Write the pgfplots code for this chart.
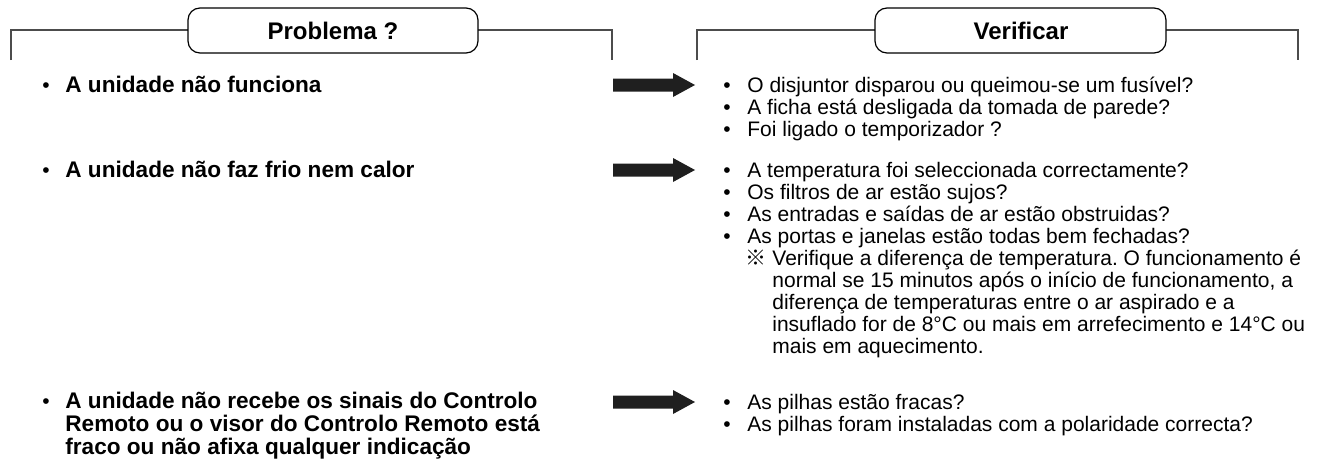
\documentclass[border=0pt]{standalone}
\usepackage{fontspec}
\setmainfont{Liberation Sans}
\newfontfamily\cjk{Noto Sans CJK JP}
\usepackage{pgfplots}
\pgfplotsset{compat=1.18}
\frenchspacing
\newcommand{\rfont}{\fontsize{10.5pt}{11pt}\selectfont}
\newcommand{\bfnt}{\fontsize{11.3pt}{11.25pt}\selectfont\bfseries}
\newcommand{\hfnt}{\fontsize{12pt}{12pt}\selectfont\bfseries}
\newcommand{\RL}[2]{\node[anchor=base west,inner sep=0pt] at (axis cs:723,#1) {\rfont\textbullet};\node[anchor=base west,inner sep=0pt] at (axis cs:747,#1) {\rfont #2};}
\newcommand{\RC}[3]{\node[anchor=base west,inner sep=0pt] at (axis cs:#1,#2) {\rfont #3};}
\newcommand{\LL}[2]{\node[anchor=base west,inner sep=0pt] at (axis cs:42,#1) {\rfont\textbullet};\node[anchor=base west,inner sep=0pt] at (axis cs:65,#1) {\bfnt #2};}
\newcommand{\LC}[2]{\node[anchor=base west,inner sep=0pt] at (axis cs:65,#1) {\bfnt #2};}
\begin{document}
\begin{tikzpicture}
\begin{axis}[at={(0,0)},anchor=south west,width=659.5pt,height=233pt,scale only axis,
  xmin=0,xmax=1319,ymin=0,ymax=466,y dir=reverse,hide axis,clip=false]
% brackets
\addplot[draw=black!70,line width=0.6pt,mark=none] coordinates {(11,60) (11,30) (612,30) (612,60)};
\addplot[draw=black!70,line width=0.6pt,mark=none] coordinates {(697,60) (697,30) (1298,30) (1298,60)};
% header boxes
\addplot[draw=black,fill=white,line width=0.6pt,rounded corners=6pt,mark=none] coordinates {(188,8) (478,8) (478,53) (188,53)} -- cycle;
\addplot[draw=black,fill=white,line width=0.6pt,rounded corners=6pt,mark=none] coordinates {(875,8) (1166,8) (1166,53) (875,53)} -- cycle;
\node[anchor=center,inner sep=0pt] at (axis cs:333,31) {\hfnt Problema ?};
\node[anchor=center,inner sep=0pt] at (axis cs:1021,31) {\hfnt Verificar};
% arrows
\addplot[fill=black!88,draw=none,mark=none] coordinates {(613,78.5) (673,78.5) (673,73) (695,85) (673,97) (673,91.5) (613,91.5)} -- cycle;
\addplot[fill=black!88,draw=none,mark=none] coordinates {(613,163.5) (673,163.5) (673,158) (695,170) (673,182) (673,176.5) (613,176.5)} -- cycle;
\addplot[fill=black!88,draw=none,mark=none] coordinates {(613,395.5) (673,395.5) (673,390) (695,402) (673,414) (673,408.5) (613,408.5)} -- cycle;
% left column
\LL{92}{A unidade não funciona}
\LL{177}{A unidade não faz frio nem calor}
\LL{408}{A unidade não recebe os sinais do Controlo}
\LC{431}{Remoto ou o visor do Controlo Remoto está}
\LC{454}{fraco ou não afixa qualquer indicação}
% right column
\RL{92}{O disjuntor disparou ou queimou-se um fusível?}
\RL{114}{A ficha está desligada da tomada de parede?}
\RL{136}{Foi ligado o temporizador ?}
\RL{177}{A temperatura foi seleccionada correctamente?}
\RL{199}{Os filtros de ar estão sujos?}
\RL{221}{As entradas e saídas de ar estão obstruidas?}
\RL{243}{As portas e janelas estão todas bem fechadas?}
\RC{745}{265}{\cjk ※}
\RC{772}{265}{Verifique a diferença de temperatura. O funcionamento é}
\RC{772}{287}{normal se 15 minutos após o início de funcionamento, a}
\RC{772}{309}{diferença de temperaturas entre o ar aspirado e a}
\RC{772}{331}{insuflado for de 8°C ou mais em arrefecimento e 14°C ou}
\RC{772}{353}{mais em aquecimento.}
\RL{409}{As pilhas estão fracas?}
\RL{431}{As pilhas foram instaladas com a polaridade correcta?}
\end{axis}
\pgfresetboundingbox
\path (0,0) rectangle (659.5pt,233pt);
\end{tikzpicture}
\end{document}
